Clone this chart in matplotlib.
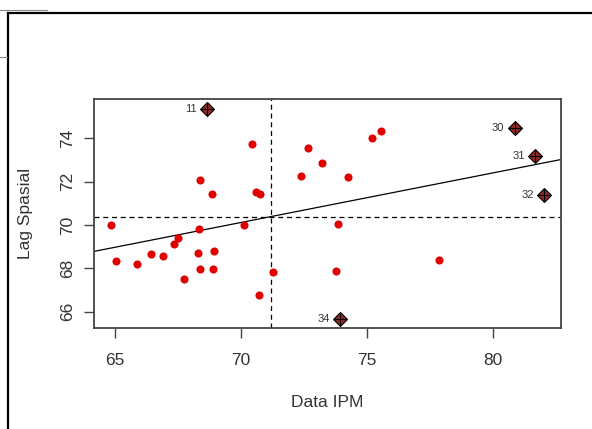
import matplotlib
matplotlib.use("Agg")
import matplotlib.pyplot as plt
from matplotlib.lines import Line2D
import numpy as np

plt.rcParams['font.family'] = ['Liberation Sans', 'DejaVu Sans']

# regular observations (Data IPM, spatial lag)
ipm = [64.85, 65.03, 65.86, 66.42, 66.91, 67.33, 67.49, 67.73, 68.28, 68.34,
       68.38, 68.39, 68.86, 68.89, 68.94, 70.11, 70.43, 70.60, 70.72, 70.77,
       71.29, 72.37, 72.65, 73.22, 73.78, 73.87, 74.25, 75.21, 75.55, 77.88]
lag = [70.00, 68.33, 68.22, 68.67, 68.58, 69.14, 69.38, 67.52, 68.73, 69.82,
       67.98, 72.06, 71.44, 67.98, 68.82, 70.00, 73.72, 71.54, 66.76, 71.44,
       67.85, 72.25, 73.57, 72.86, 67.88, 70.05, 72.20, 74.01, 74.32, 68.37]

# influential observations
inf_id = ["11", "30", "31", "32", "34"]
inf_ipm = [68.64, 80.86, 81.69, 82.03, 73.95]
inf_lag = [75.35, 74.46, 73.20, 71.38, 65.66]

x_ticks = [65, 70, 75, 80]
y_ticks = [66, 68, 70, 72, 74]

all_x = np.array(ipm + inf_ipm)
all_y = np.array(lag + inf_lag)
slope, intercept = np.polyfit(all_x, all_y, 1)

fig = plt.figure(figsize=(5.92, 4.29), dpi=100)
ax = fig.add_axes([0.158, 0.2361, 0.789, 0.532])

txt = '#333333'
ax.scatter(ipm, lag, s=34, color='#e00000', zorder=3, linewidths=0)

xl = (64.146, 82.69)
ax.plot(xl, [intercept + slope * v for v in xl], color='black', lw=0.9, zorder=2)
ax.axhline(all_y.mean(), color='black', lw=0.9, ls=(0, (4, 3)), zorder=2)
ax.axvline(all_x.mean(), color='black', lw=0.9, ls=(0, (4, 3)), zorder=2)

ax.plot(inf_ipm, inf_lag, 'D', ms=6.8, mfc='#902828', mec='black', mew=0.8, ls='none', zorder=4)
ax.plot(inf_ipm, inf_lag, '+', ms=8, color='black', mew=0.8, ls='none', zorder=5)
for lab, xx, yy in zip(inf_id, inf_ipm, inf_lag):
    ax.annotate(lab, (xx, yy), xytext=(-7.5, 0), textcoords='offset points',
                ha='right', va='center', fontsize=8, color=txt)

ax.set_xlim(*xl)
ax.set_ylim(65.26, 75.79)
ax.set_xticks(x_ticks)
ax.set_yticks(y_ticks)
ax.set_xticklabels([str(v) for v in x_ticks], fontsize=12.5, color=txt)
ax.set_yticklabels([str(v) for v in y_ticks], fontsize=12.5, color=txt,
                   rotation=90, va='center')
ax.tick_params(length=7.5, width=1, color='#444444')
ax.tick_params(axis='x', pad=11)
ax.tick_params(axis='y', pad=6)
for s in ax.spines.values():
    s.set_color('#444444')
    s.set_linewidth(1.3)

ax.set_xlabel('Data IPM', fontsize=12.5, color=txt, labelpad=19)
ax.set_ylabel('Lag Spasial', fontsize=12.5, color=txt, labelpad=19)

# window frame around the plot in the screenshot
fig.add_artist(Line2D([0.0135, 1], [0.9697, 0.9697], color='black', lw=1.6))
fig.add_artist(Line2D([0.0135, 0.0135], [0, 0.9697], color='black', lw=1.6))
fig.add_artist(Line2D([0, 0.079], [0.9767, 0.9767], color='#888888', lw=0.8))
fig.add_artist(Line2D([0, 0.0118], [0.867, 0.867], color='#888888', lw=0.8))

fig.savefig('out.png', dpi=100)
